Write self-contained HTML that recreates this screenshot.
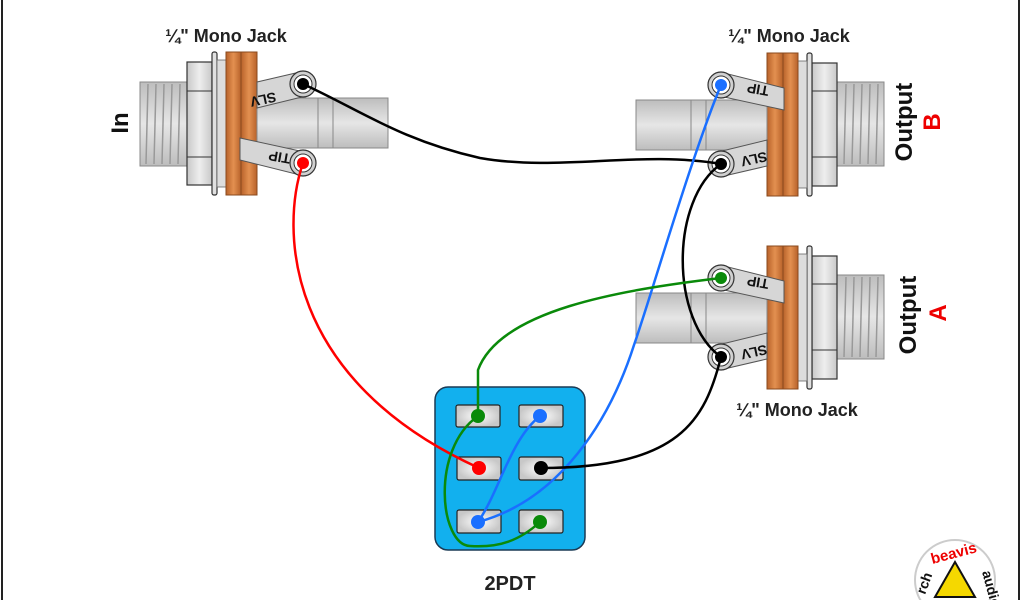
<!DOCTYPE html>
<html><head><meta charset="utf-8"><style>
html,body{margin:0;padding:0;background:#fff;}
svg{display:block;}
text{font-family:"Liberation Sans",Arial,sans-serif;font-weight:bold;}
</style></head><body>
<svg width="1024" height="600" viewBox="0 0 1024 600" xmlns="http://www.w3.org/2000/svg">
<defs>
<linearGradient id="gv" x1="0" y1="0" x2="0" y2="1"><stop offset="0" stop-color="#bdbdbd"/><stop offset=".5" stop-color="#e6e6e6"/><stop offset="1" stop-color="#bdbdbd"/></linearGradient>
<linearGradient id="gh" x1="0" y1="0" x2="1" y2="0"><stop offset="0" stop-color="#c8c8c8"/><stop offset=".5" stop-color="#eeeeee"/><stop offset="1" stop-color="#c8c8c8"/></linearGradient>
<linearGradient id="go" x1="0" y1="0" x2="1" y2="0"><stop offset="0" stop-color="#b8622a"/><stop offset=".5" stop-color="#e39050"/><stop offset="1" stop-color="#b8622a"/></linearGradient>
<radialGradient id="gl"><stop offset="0" stop-color="#ffffff"/><stop offset="1" stop-color="#c8c8c8"/></radialGradient>
<g id="jack">
  <rect x="140" y="82" width="47" height="84" fill="url(#gv)" stroke="#888" stroke-width="1"/>
  <g stroke="#999" stroke-width="1.5">
    <line x1="148" y1="84" x2="146" y2="164"/><line x1="156" y1="84" x2="154" y2="164"/><line x1="164" y1="84" x2="162" y2="164"/><line x1="172" y1="84" x2="170" y2="164"/><line x1="180" y1="84" x2="178" y2="164"/>
  </g>
  <rect x="187" y="62" width="25" height="123" fill="url(#gh)" stroke="#333" stroke-width="1.2"/>
  <line x1="187" y1="91" x2="212" y2="91" stroke="#333"/><line x1="187" y1="157" x2="212" y2="157" stroke="#333"/>
  <rect x="212" y="52" width="5" height="143" rx="2" fill="#e0e0e0" stroke="#333" stroke-width="1.2"/>
  <rect x="217" y="60" width="9" height="127" fill="#ddd" stroke="#666" stroke-width=".8"/>
  <rect x="226" y="52" width="15" height="143" fill="url(#go)" stroke="#8a4a1e"/>
  <rect x="241" y="52" width="16" height="143" fill="url(#go)" stroke="#8a4a1e"/>
  <rect x="257" y="98" width="131" height="50" fill="url(#gv)" stroke="#888"/>
  <line x1="318" y1="98" x2="318" y2="148" stroke="#888"/><line x1="333" y1="98" x2="333" y2="148" stroke="#888"/>
  <path d="M257,82 L300,72 L306,96 L257,108 Z" fill="#d6d6d6" stroke="#555"/>
  <path d="M240,138 L300,151 L300,175 L240,160 Z" fill="#d6d6d6" stroke="#555"/>
  <circle cx="303" cy="84" r="13" fill="url(#gl)" stroke="#333" stroke-width="1.2"/><circle cx="303" cy="84" r="9" fill="#fff" stroke="#333"/>
  <circle cx="303" cy="163" r="13" fill="url(#gl)" stroke="#333" stroke-width="1.2"/><circle cx="303" cy="163" r="9" fill="#fff" stroke="#333"/>
</g>
</defs>
<rect x="1" y="0" width="2" height="600" fill="#222"/>
<rect x="1018" y="0" width="2" height="600" fill="#222"/>

<use href="#jack"/>
<text x="275" y="92" font-size="14" fill="#111" transform="rotate(168 275 92)">SLV</text>
<text x="266" y="158" font-size="14" fill="#111" transform="rotate(190 266 158) translate(-24 8)">TIP</text>
<circle cx="303" cy="84" r="6" fill="#000"/>
<circle cx="303" cy="163" r="6" fill="#f00"/>
<text x="226" y="42" font-size="18" text-anchor="middle" fill="#222">¼" Mono Jack</text>
<text x="120" y="123" font-size="24" text-anchor="middle" fill="#111" transform="rotate(-90 120 123)" dy="8">In</text>

<g transform="rotate(180 512 124)"><use href="#jack"/></g>
<text x="741" y="92" font-size="14" fill="#111" transform="rotate(190 755 88)">TIP</text>
<text x="743" y="162" font-size="14" fill="#111" transform="rotate(168 755 158)">SLV</text>
<circle cx="721" cy="85" r="6" fill="#1a6fff"/>
<circle cx="721" cy="164" r="6" fill="#000"/>
<text x="789" y="42" font-size="18" text-anchor="middle" fill="#222">¼" Mono Jack</text>
<text x="904" y="122" font-size="24" text-anchor="middle" fill="#111" transform="rotate(-90 904 122)" dy="8">Output</text>
<text x="932" y="122" font-size="24" text-anchor="middle" fill="#e00" transform="rotate(-90 932 122)" dy="8">B</text>

<g transform="translate(0 193) rotate(180 512 124)"><use href="#jack"/></g>
<text x="741" y="285" font-size="14" fill="#111" transform="rotate(190 755 281)">TIP</text>
<text x="743" y="355" font-size="14" fill="#111" transform="rotate(168 755 351)">SLV</text>
<circle cx="721" cy="278" r="6" fill="#0a8a0a"/>
<circle cx="721" cy="357" r="6" fill="#000"/>
<text x="797" y="416" font-size="18" text-anchor="middle" fill="#222">¼" Mono Jack</text>
<text x="908" y="315" font-size="24" text-anchor="middle" fill="#111" transform="rotate(-90 908 315)" dy="8">Output</text>
<text x="938" y="313" font-size="24" text-anchor="middle" fill="#e00" transform="rotate(-90 938 313)" dy="8">A</text>

<rect x="435" y="387" width="150" height="163" rx="13" fill="#12b0ee" stroke="#1a3a55" stroke-width="1.5"/>
<g fill="url(#gl)" stroke="#222" stroke-width="1.2">
<rect x="456" y="405" width="44" height="22" rx="2"/><rect x="519" y="405" width="44" height="22" rx="2"/>
<rect x="457" y="457" width="44" height="23" rx="2"/><rect x="519" y="457" width="44" height="23" rx="2"/>
<rect x="457" y="510" width="44" height="23" rx="2"/><rect x="519" y="510" width="44" height="23" rx="2"/>
</g>
<text x="510" y="590" font-size="20" text-anchor="middle" fill="#222">2PDT</text>

<g fill="none" stroke-width="2.5">
<path d="M303,163 C280,230 285,380 479,468" stroke="#f00"/>
<path d="M303,84 C360,110 400,140 480,158 C560,172 640,150 721,164" stroke="#000"/>
<path d="M721,85 C690,160 650,300 634,345 C610,420 560,500 478,522" stroke="#1a6fff"/>
<path d="M540,416 C510,440 500,490 478,522" stroke="#1a6fff"/>
<path d="M721,164 C670,200 670,320 721,357" stroke="#000"/>
<path d="M721,357 C705,420 680,468 541,468" stroke="#000"/>
<path d="M721,278 C620,290 500,310 478,370 L478,416" stroke="#0a8a0a"/>
<path d="M478,416 C430,450 440,545 470,546 C500,548 520,540 540,522" stroke="#0a8a0a"/>
</g>
<circle cx="478" cy="416" r="7" fill="#0a8a0a"/>
<circle cx="540" cy="416" r="7" fill="#1a6fff"/>
<circle cx="479" cy="468" r="7" fill="#f00"/>
<circle cx="541" cy="468" r="7" fill="#000"/>
<circle cx="478" cy="522" r="7" fill="#1a6fff"/>
<circle cx="540" cy="522" r="7" fill="#0a8a0a"/>

<circle cx="955" cy="580" r="40" fill="#fff" stroke="#ccc" stroke-width="2"/>
<path d="M955,562 L935,597 L975,597 Z" fill="#f5d800" stroke="#111" stroke-width="2"/>
<text x="955" y="558" font-size="15" text-anchor="middle" fill="#e00" transform="rotate(-15 955 558)">beavis</text>
<text x="925" y="595" font-size="14" fill="#111" transform="rotate(-70 925 595)">rch</text>
<text x="982" y="572" font-size="14" fill="#111" transform="rotate(75 982 572)">audio</text>
</svg>
</body></html>
